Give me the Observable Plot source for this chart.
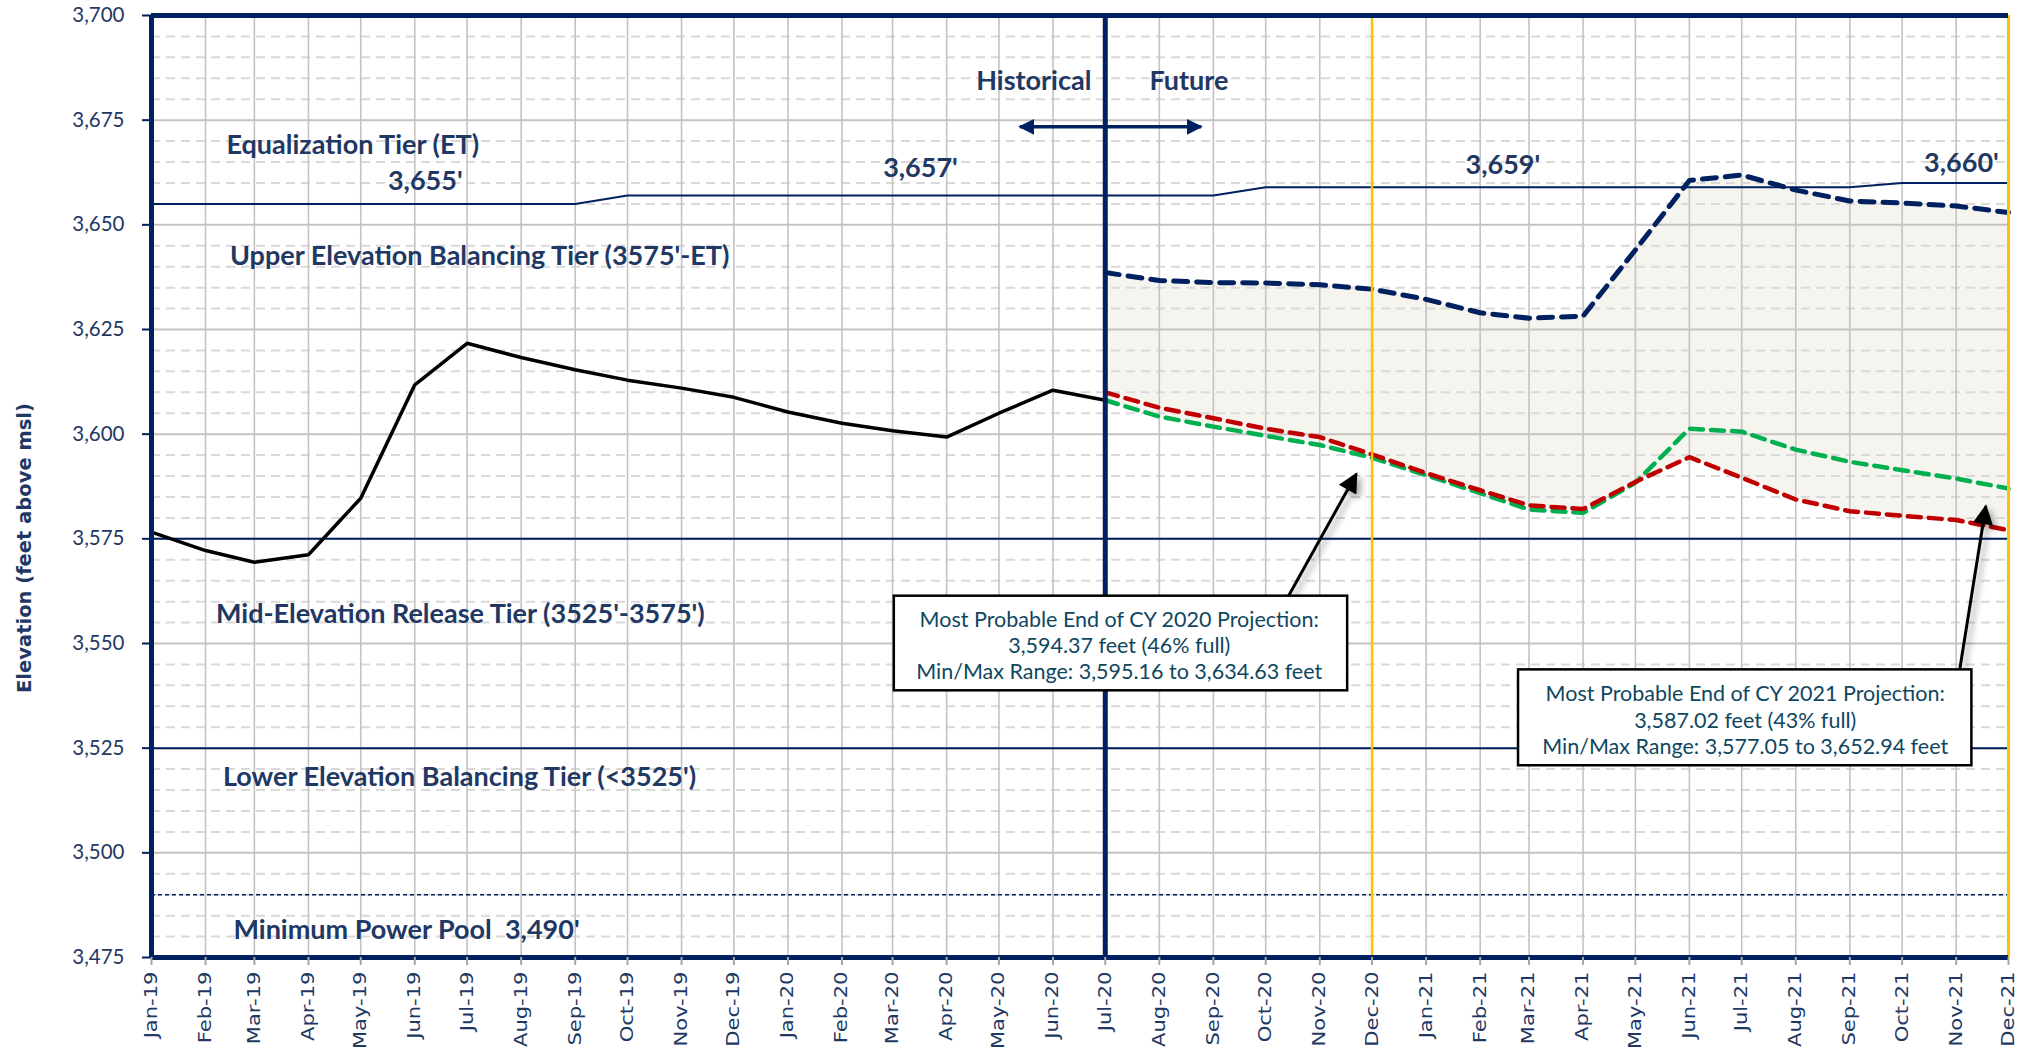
<!DOCTYPE html>
<html><head><meta charset="utf-8">
<script src="https://cdn.jsdelivr.net/npm/d3@7"></script>
<script src="https://cdn.jsdelivr.net/npm/@observablehq/plot@0.6"></script>
<style>
html,body{margin:0;padding:0;background:#fff;}
#chart{width:2031px;height:1057px;overflow:hidden;}
</style></head><body><div id="chart"></div>
<script>
// ---------- data ----------
const monthLabels = ["Jan-19","Feb-19","Mar-19","Apr-19","May-19","Jun-19","Jul-19","Aug-19","Sep-19","Oct-19","Nov-19","Dec-19",
  "Jan-20","Feb-20","Mar-20","Apr-20","May-20","Jun-20","Jul-20","Aug-20","Sep-20","Oct-20","Nov-20","Dec-20",
  "Jan-21","Feb-21","Mar-21","Apr-21","May-21","Jun-21","Jul-21","Aug-21","Sep-21","Oct-21","Nov-21","Dec-21"];
const yTicks = [3475, 3500, 3525, 3550, 3575, 3600, 3625, 3650, 3675, 3700];

// Historical elevation, Jan-19 .. Jul-20
const historical = [3576.6, 3572.2, 3569.4, 3571.2, 3584.7, 3611.8, 3621.7, 3618.3, 3615.4, 3612.9, 3611.0, 3608.8,
  3605.3, 3602.6, 3600.8, 3599.3, 3605.0, 3610.5, 3608.1];
// Projections, Jul-20 .. Dec-21
const maxProbable = [3638.6, 3636.7, 3636.2, 3636.1, 3635.7, 3634.63, 3632.2, 3629.0, 3627.7, 3628.2, 3644.0, 3660.6,
  3661.9, 3658.3, 3655.7, 3655.2, 3654.5, 3652.94];
const minProbable = [3610.0, 3606.3, 3603.8, 3601.3, 3599.3, 3595.16, 3590.7, 3586.6, 3583.0, 3582.1, 3588.6, 3594.5,
  3589.6, 3584.4, 3581.6, 3580.5, 3579.5, 3577.05];
const mostProbable = [3608.1, 3604.2, 3601.8, 3599.6, 3597.4, 3594.37, 3590.2, 3585.9, 3582.0, 3581.2, 3588.4, 3601.3,
  3600.6, 3596.3, 3593.4, 3591.4, 3589.4, 3587.02];
// Equalization tier elevation, Jan-19 .. Dec-21
const equalizationTier = [3655,3655,3655,3655,3655,3655,3655,3655,3655,3657,3657,3657,
  3657,3657,3657,3657,3657,3657,3657,3657,3657,3659,3659,3659,
  3659,3659,3659,3659,3659,3659,3659,3659,3659,3660,3660,3660];
const tierLines = [3575, 3525];
const minPowerPool = 3490;

// ---------- tables ----------
const parseM = d3.utcParse("%b-%y");
const dates = monthLabels.map(parseM);
const histData = historical.map((v, i) => ({date: dates[i], v}));
const projStart = monthLabels.indexOf("Jul-20");
const projData = maxProbable.map((v, i) => ({
  date: dates[projStart + i], max: v, min: minProbable[i], most: mostProbable[i],
  lower: Math.min(minProbable[i], mostProbable[i])
}));
const etData = equalizationTier.map((v, i) => ({date: dates[i], v}));
const minorY = d3.range(3475, 3701, 5).filter(v => v % 25 !== 0);
const D = s => new Date(s + "T00:00:00Z");

const NAVY = "#002060", TXT = "#1f3864", GOLD = "#FFC000";
const labelFont = "Lato";
function label(text, date, value, opts = {}) {
  return Plot.text([0], {x: [D(date)], y: [value], text: [text], fill: TXT, fontSize: 27, fontWeight: "bold",
    fontFamily: labelFont, textAnchor: "start", ...opts});
}
function box(d1, d2, v1, v2) {
  return Plot.rect([0], {x1: [D(d1)], x2: [D(d2)], y1: [v1], y2: [v2], fill: "white", stroke: "black", strokeWidth: 2.5});
}

const chart = Plot.plot({
  width: 2031, height: 1057,
  marginLeft: 151, marginRight: 23, marginTop: 15, marginBottom: 100,
  style: {fontFamily: labelFont, background: "white", overflow: "visible"},
  x: {type: "utc", domain: [dates[0], dates[dates.length - 1]]},
  y: {domain: [3475, 3700]},
  marks: [
    Plot.areaY(projData, {x: "date", y1: "lower", y2: "max", fill: "#f6f4ee"}),
    Plot.ruleY(minorY, {stroke: "#d9d9d9", strokeWidth: 2, strokeDasharray: "9,6"}),
    Plot.ruleY(yTicks, {stroke: "#c3c3c3", strokeWidth: 2}),
    Plot.ruleX(dates, {stroke: "#c3c3c3", strokeWidth: 1.6}),
    Plot.ruleY(tierLines, {stroke: NAVY, strokeWidth: 2}),
    Plot.ruleY([minPowerPool], {stroke: NAVY, strokeWidth: 1.6, strokeDasharray: "4,3"}),
    Plot.lineY(etData, {x: "date", y: "v", stroke: NAVY, strokeWidth: 2}),
    Plot.lineY(histData, {x: "date", y: "v", stroke: "black", strokeWidth: 3.5}),
    Plot.lineY(projData, {x: "date", y: "max", stroke: NAVY, strokeWidth: 5, strokeDasharray: "14,9"}),
    Plot.lineY(projData, {x: "date", y: "most", stroke: "#00B050", strokeWidth: 4.5, strokeDasharray: "13,8"}),
    Plot.lineY(projData, {x: "date", y: "min", stroke: "#C00000", strokeWidth: 4.5, strokeDasharray: "13,8"}),
    // frame
    Plot.ruleX([dates[projStart]], {stroke: NAVY, strokeWidth: 5}),
    Plot.ruleX([dates[monthLabels.indexOf("Dec-20")]], {stroke: GOLD, strokeWidth: 2.5}),
    Plot.ruleX([dates[dates.length - 1]], {stroke: GOLD, strokeWidth: 3}),
    Plot.ruleY([3700, 3475], {stroke: NAVY, strokeWidth: 5}),
    Plot.ruleX([dates[0]], {stroke: NAVY, strokeWidth: 5}),
    // tier labels
    label("Equalization Tier (ET)", "2019-02-13", 3669.0),
    label("3,655'", "2019-06-07", 3660.4, {textAnchor: "middle"}),
    label("3,657'", "2020-03-17", 3663.5, {textAnchor: "middle"}),
    label("3,659'", "2021-02-14", 3664.1, {textAnchor: "middle"}),
    label("3,660'", "2021-11-04", 3664.7, {textAnchor: "middle"}),
    label("Upper Elevation Balancing Tier (3575'-ET)", "2019-02-15", 3642.4),
    label("Mid-Elevation Release Tier (3525'-3575')", "2019-02-07", 3557.0),
    label("Lower Elevation Balancing Tier (<3525')", "2019-02-11", 3518.0),
    label("Minimum Power Pool  3,490'", "2019-02-17", 3481.4),
    label("Historical", "2020-05-21", 3684.2, {textAnchor: "middle"}),
    label("Future", "2020-08-18", 3684.2, {textAnchor: "middle"}),
    Plot.link([0], {x1: [D("2020-05-13")], x2: [D("2020-08-25")], y1: [3673.4], y2: [3673.4], stroke: NAVY, strokeWidth: 3.5, ariaDescription: "dblarrow"}),
    // annotation arrows
    Plot.link([0], {x1: [D("2020-10-14")], y1: [3561.3], x2: [D("2020-11-22")], y2: [3590.5], stroke: "black", strokeWidth: 3, ariaDescription: "arrow"}),
    Plot.link([0], {x1: [D("2021-11-03")], y1: [3543.7], x2: [D("2021-11-18")], y2: [3582.8], stroke: "black", strokeWidth: 3, ariaDescription: "arrow"}),
    // annotation boxes
    box("2020-03-02", "2020-11-17", 3538.7, 3561.3),
    Plot.text([0], {x: [D("2020-07-09")], y: [3549.8], text: ["Most Probable End of CY 2020 Projection:\n3,594.37 feet (46% full)\nMin/Max Range: 3,595.16 to 3,634.63 feet"],
      fill: "#0f4761", fontSize: 21.5, fontFamily: labelFont, lineHeight: 1.22, textAnchor: "middle"}),
    box("2021-02-23", "2021-11-10", 3520.8, 3543.7),
    Plot.text([0], {x: [D("2021-07-03")], y: [3531.9], text: ["Most Probable End of CY 2021 Projection:\n3,587.02 feet (43% full)\nMin/Max Range: 3,577.05 to 3,652.94 feet"],
      fill: "#0f4761", fontSize: 21.5, fontFamily: labelFont, lineHeight: 1.22, textAnchor: "middle"}),
    // axes
    Plot.axisY({ticks: yTicks, tickFormat: d3.format(","), tickSize: 9, tickPadding: 18, fontSize: 20.5, color: TXT, label: null, fontFamily: labelFont}),
    Plot.axisX({ticks: dates, tickFormat: d => monthLabels[dates.findIndex(t => +t === +d)], tickRotate: -90, tickSize: 8, tickPadding: 6,
      fontSize: 17, color: TXT, label: null, fontFamily: "DejaVu Sans"})
  ]
});
document.getElementById("chart").appendChild(chart);

// ---------- post-processing: arrowheads, shadows, axis title ----------
const svg = d3.select(chart);
const defs = svg.insert("defs", ":first-child");
defs.append("marker").attr("id", "headBlack").attr("viewBox", "0 0 10 10").attr("refX", 9).attr("refY", 5)
  .attr("markerUnits", "userSpaceOnUse").attr("markerWidth", 22).attr("markerHeight", 20).attr("orient", "auto-start-reverse")
  .append("path").attr("d", "M0,0L10,5L0,10z").attr("fill", "black");
defs.append("marker").attr("id", "headNavy").attr("viewBox", "0 0 10 10").attr("refX", 9).attr("refY", 5)
  .attr("markerUnits", "userSpaceOnUse").attr("markerWidth", 16).attr("markerHeight", 24).attr("orient", "auto-start-reverse")
  .append("path").attr("d", "M0,0L10,5L0,10z").attr("fill", NAVY);
const f = defs.append("filter").attr("id", "shadow").attr("x", "-50%").attr("y", "-50%").attr("width", "200%").attr("height", "200%");
f.append("feDropShadow").attr("dx", 4).attr("dy", 4).attr("stdDeviation", 3).attr("flood-color", "#000").attr("flood-opacity", 0.35);
svg.selectAll("g").each(function() {
  const desc = this.getAttribute("aria-description");
  if (desc === "arrow") {
    d3.select(this).selectAll("path").attr("marker-end", "url(#headBlack)");
    this.setAttribute("filter", "url(#shadow)");
  } else if (desc === "dblarrow") {
    d3.select(this).selectAll("path").attr("marker-end", "url(#headNavy)").attr("marker-start", "url(#headNavy)");
  }
});
// stretch x tick labels along their length
svg.selectAll('g[aria-label="x-axis tick label"] text').each(function() {
  const t = this.getAttribute("transform") || "";
  this.setAttribute("transform", t + " scale(1.24,1)");
});
svg.selectAll('g[aria-label="x-axis tick"] path').attr("stroke", "#a6a6a6").attr("stroke-width", 2);
svg.selectAll('g[aria-label="y-axis tick"] path').attr("stroke", NAVY).attr("stroke-width", 2);
svg.append("text").attr("transform", "translate(31,548) rotate(-90)").attr("text-anchor", "middle")
  .attr("font-family", "DejaVu Sans").attr("font-weight", "bold").attr("font-size", 19.5).attr("fill", TXT)
  .text("Elevation (feet above msl)");
</script></body></html>
